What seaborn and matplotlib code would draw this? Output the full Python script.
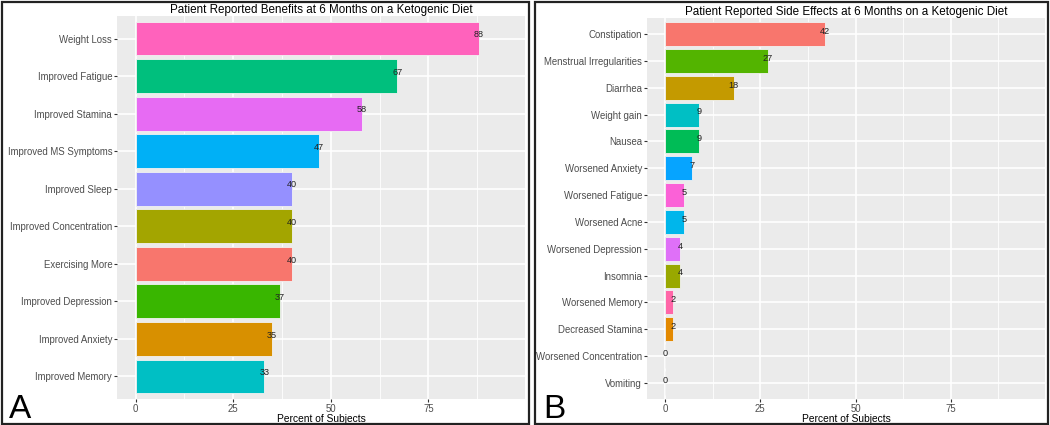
import matplotlib
matplotlib.use("Agg")
import matplotlib.pyplot as plt
from matplotlib.patches import Rectangle
import seaborn as sns
import pandas as pd

# ---- data ----
benefit_labels = ["Weight Loss", "Improved Fatigue", "Improved Stamina", "Improved MS Symptoms",
                  "Improved Sleep", "Improved Concentration", "Exercising More",
                  "Improved Depression", "Improved Anxiety", "Improved Memory"]
benefit_values = [88, 67, 58, 47, 40, 40, 40, 37, 35, 33]
benefit_colors = ["#FF62BC", "#00BF7D", "#E76BF3", "#00B0F6", "#9590FF",
                  "#A3A500", "#F8766D", "#39B600", "#D89000", "#00BFC4"]

side_labels = ["Constipation", "Menstrual Irregularities", "Diarrhea", "Weight gain", "Nausea",
               "Worsened Anxiety", "Worsened Fatigue", "Worsened Acne", "Worsened Depression",
               "Insomnia", "Worsened Memory", "Decreased Stamina", "Worsened Concentration",
               "Vomiting"]
side_values = [42, 27, 18, 9, 9, 7, 5, 5, 4, 4, 2, 2, 0, 0]
side_colors = ["#F8766D", "#53B400", "#C49A00", "#00BFC4", "#00BC56", "#06A4FF", "#FB61D7",
               "#00B6EB", "#DF70F8", "#99A800", "#FF66A8", "#E38900", "#A58AFF", "#00C094"]

x_ticks = [0, 25, 50, 75]
x_limits = (-4.75, 99.75)

titles = ["Patient Reported Benefits at 6 Months on a Ketogenic Diet",
          "Patient Reported Side Effects at 6 Months on a Ketogenic Diet"]
xlabel = "Percent of Subjects"
letters = ["A", "B"]

plt.rcParams['font.family'] = ['Liberation Sans', 'DejaVu Sans']

W, H = 1050, 425
fig = plt.figure(figsize=(W / 100, H / 100), dpi=100)
fig.patch.set_facecolor("white")


def px_axes(x0, y0, x1, y1):
    return fig.add_axes([x0 / W, 1 - y1 / H, (x1 - x0) / W, (y1 - y0) / H])


def draw(ax, labels, values, colors, title):
    df = pd.DataFrame({"cat": labels, "val": values})
    pal = dict(zip(labels, colors))
    sns.barplot(data=df, y="cat", x="val", hue="cat", palette=pal, order=labels,
                orient="h", width=0.9, legend=False, ax=ax, saturation=1,
                edgecolor="#F2F2F2", linewidth=0.6, zorder=3)
    n = len(labels)
    ax.set_facecolor("#EBEBEB")
    ax.set_xlim(*x_limits)
    ax.set_ylim(n - 0.4, -0.6)
    ax.set_xticks(x_ticks)
    ax.set_xticks([12.5, 37.5, 62.5, 87.5], minor=True)
    ax.grid(True, which="major", color="white", linewidth=1.2, zorder=0)
    ax.grid(True, which="minor", axis="x", color="white", linewidth=0.6, zorder=0)
    ax.set_axisbelow(True)
    for s in ax.spines.values():
        s.set_visible(False)
    ax.tick_params(axis="both", which="major", length=2.5, width=0.8, color="#333333",
                   labelcolor="#4D4D4D", labelsize=6.9, pad=1)
    ax.tick_params(axis="both", which="minor", length=0)
    ax.set_ylabel("")
    ax.set_xlabel(xlabel, fontsize=7.4, color="black", labelpad=0)
    ax.set_title(title, fontsize=8.4, color="black", pad=2.5)
    for i, v in enumerate(values):
        ax.text(v, i - 0.1, str(v), ha="center", va="center", fontsize=6.6,
                color="#222222", zorder=5)


ax1 = px_axes(117, 16, 525, 399)
draw(ax1, benefit_labels, benefit_values, benefit_colors, titles[0])
ax2 = px_axes(647, 18, 1045, 399)
draw(ax2, side_labels, side_values, side_colors, titles[1])

# panel frames
for (x0, x1) in [(1.5, 529), (535, 1048)]:
    fig.patches.append(Rectangle((x0 / W, 1.5 / H), (x1 - x0) / W, (423 - 1.5) / H,
                                 transform=fig.transFigure, fill=False,
                                 edgecolor="#222222", linewidth=1.6))

fig.text(9 / W, 1 - 418 / H, letters[0], fontsize=24, color="black", ha="left", va="baseline")
fig.text(543 / W, 1 - 418 / H, letters[1], fontsize=24, color="black", ha="left", va="baseline")

fig.savefig("out.png", dpi=100)
